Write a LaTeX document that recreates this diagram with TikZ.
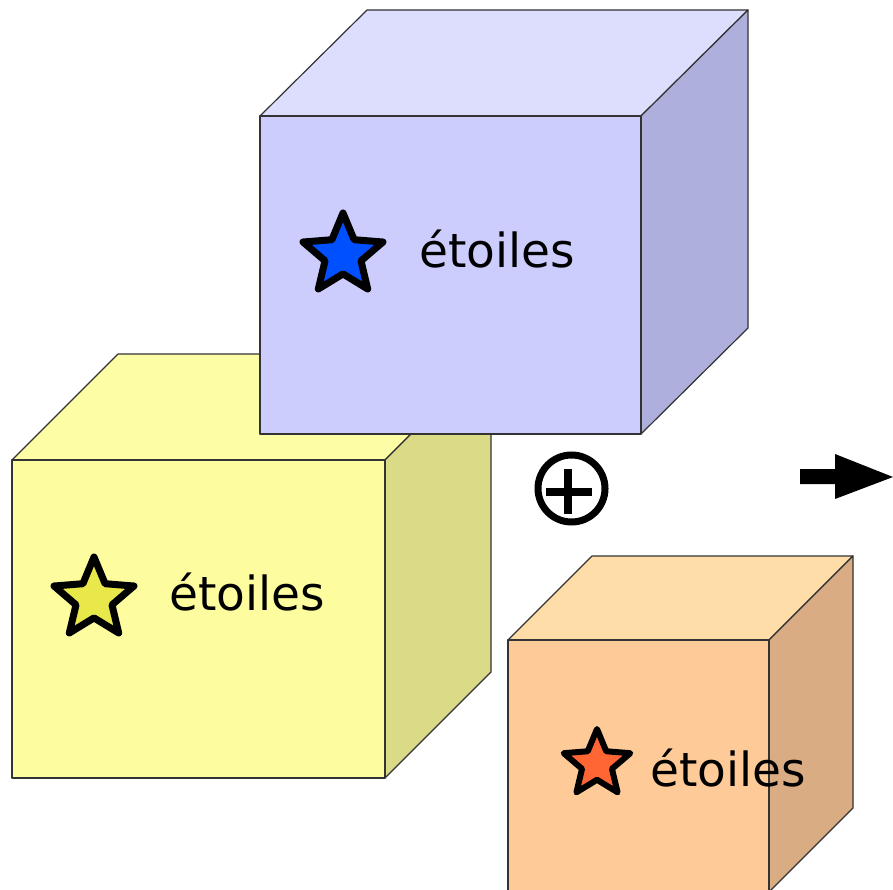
\documentclass[tikz,border=0pt]{standalone}
\usepackage{fontspec}
\setmainfont{DejaVu Sans}
\definecolor{yfront}{HTML}{FDFDA0}
\definecolor{ytop}{HTML}{FDFDA6}
\definecolor{yright}{HTML}{DADA87}
\definecolor{bfront}{HTML}{CCCCFD}
\definecolor{btop}{HTML}{DDDDFD}
\definecolor{bright}{HTML}{AFAFDD}
\definecolor{ofront}{HTML}{FECB98}
\definecolor{otop}{HTML}{FEDDA8}
\definecolor{oright}{HTML}{DAAC83}
\definecolor{starblue}{HTML}{0050FF}
\definecolor{staryellow}{HTML}{E8E84A}
\definecolor{starorange}{HTML}{FF6633}
\newcommand\mystar[5]{%
  \draw[starline, line width=#5, fill=#4, shift={(#1,#2)}]
    (-90:#3) -- (-54:0.45*#3) -- (-18:#3) -- (18:0.45*#3) -- (54:#3) -- (90:0.45*#3)
    -- (126:#3) -- (162:0.45*#3) -- (198:#3) -- (234:0.45*#3) -- cycle;}
\begin{document}
\begin{tikzpicture}[x=1pt,y=-1pt,
  edge/.style={draw=black!80, line width=1.2pt, line join=round},
  starline/.style={draw=black, line join=round},
  lbl/.style={font=\fontsize{47}{47}\selectfont, anchor=base west, inner sep=0pt}]
\useasboundingbox (0,0) rectangle (893,890);
\clip (0,0) rectangle (893,890);
% yellow cube
\path[edge, fill=ytop] (12,460) -- (118,354) -- (491,354) -- (385,460) -- cycle;
\path[edge, fill=yright] (385,460) -- (491,354) -- (491,672) -- (385,778) -- cycle;
\path[edge, fill=yfront] (12,460) rectangle (385,778);
\mystar{94}{599}{42}{staryellow}{7pt}
\node[lbl] (ty) at (169,610) {étoiles};
% blue cube
\path[edge, fill=btop] (260,116) -- (367,10) -- (748,10) -- (641,116) -- cycle;
\path[edge, fill=bright] (641,116) -- (748,10) -- (748,328) -- (641,434) -- cycle;
\path[edge, fill=bfront] (260,116) rectangle (641,434);
\mystar{343}{255}{42}{starblue}{7pt}
\node[lbl] (tb) at (419,268) {étoiles};
% oplus
\node[draw, circle, line width=7pt, minimum size=67pt, inner sep=0pt] (op) at (571.5,488.5) {};
\draw[line width=8pt] (546,492) -- (592,492) (568,469) -- (568,514);
% orange cube
\path[edge, fill=otop] (508,640) -- (592,556) -- (853,556) -- (769,640) -- cycle;
\path[edge, fill=oright] (769,640) -- (853,556) -- (853,808) -- (769,892) -- cycle;
\path[edge, fill=ofront] (508,640) rectangle (769,895);
\mystar{597}{764}{35}{starorange}{6pt}
\node[lbl] (to) at (650,786) {étoiles};
% arrow
\fill[black] (800,469) -- (835,469) -- (835,454) -- (893,477) -- (835,499) -- (835,484) -- (800,484) -- cycle;
\end{tikzpicture}
\end{document}
